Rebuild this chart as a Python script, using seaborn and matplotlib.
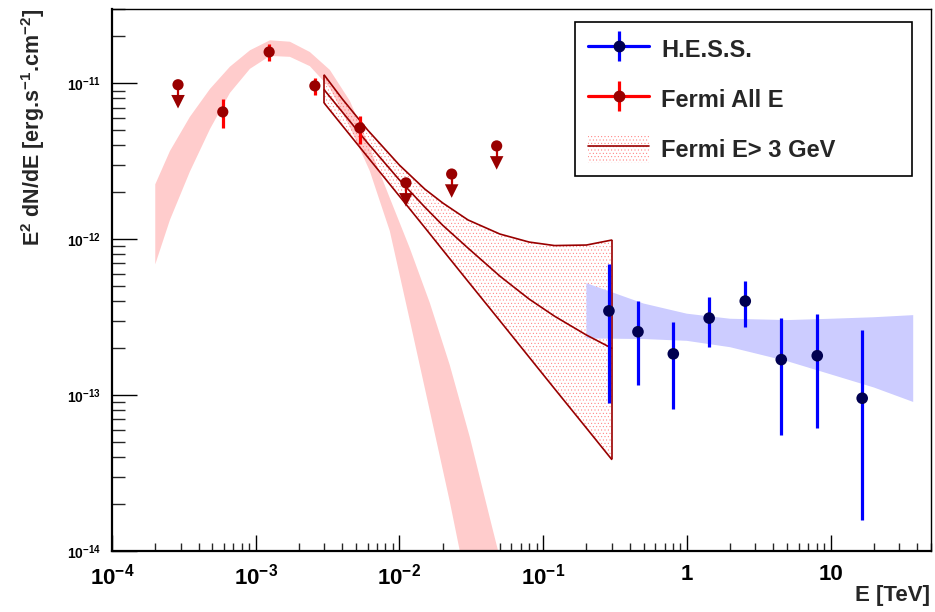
import numpy as np
import pandas as pd
import matplotlib
matplotlib.use("Agg")
import matplotlib.pyplot as plt
import seaborn as sns
from matplotlib.ticker import FixedLocator, NullFormatter, LogLocator
from matplotlib.lines import Line2D
from matplotlib.patches import Patch

# ---------------- data ----------------
# H.E.S.S. points [TeV], E^2 dN/dE [erg s^-1 cm^-2]
hess_E = [0.287, 0.457, 0.805, 1.43, 2.55, 4.54, 8.08, 16.6]
hess_F = [3.47e-13, 2.55e-13, 1.84e-13, 3.12e-13, 4.01e-13, 1.69e-13, 1.79e-13, 9.55e-14]
hess_F_hi = [6.90e-13, 4.01e-13, 2.93e-13, 4.26e-13, 5.37e-13, 3.13e-13, 3.32e-13, 2.62e-13]
hess_F_lo = [8.95e-14, 1.16e-13, 8.15e-14, 2.05e-13, 2.74e-13, 5.55e-14, 6.19e-14, 1.57e-14]

# H.E.S.S. fit band
hess_band_E = [0.2, 0.5, 1.0, 2.0, 5.0, 10.0, 20.0, 37.6]
hess_band_hi = [5.23e-13, 3.87e-13, 3.33e-13, 3.09e-13, 3.03e-13, 3.09e-13, 3.16e-13, 3.26e-13]
hess_band_lo = [2.31e-13, 2.29e-13, 2.23e-13, 2.03e-13, 1.65e-13, 1.36e-13, 1.12e-13, 9.04e-14]

# Fermi all-E points
fermi_E = [5.9e-4, 1.24e-3, 2.58e-3, 5.31e-3]
fermi_F = [6.56e-12, 1.59e-11, 9.64e-12, 5.18e-12]
fermi_F_hi = [7.95e-12, 1.80e-11, 1.08e-11, 6.18e-12]
fermi_F_lo = [5.18e-12, 1.40e-11, 8.44e-12, 4.08e-12]
# Fermi upper limits
fermi_ul_E = [2.88e-4, 1.11e-2, 2.31e-2, 4.75e-2]
fermi_ul_F = [9.8e-12, 2.30e-12, 2.62e-12, 3.97e-12]

# Fermi all-E log-parabola band
fermi_band_E = [2.0e-4, 2.53e-4, 3.48e-4, 4.81e-4, 6.62e-4, 9.12e-4, 1.256e-3, 1.73e-3,
                2.38e-3, 3.28e-3, 4.52e-3, 6.22e-3, 8.57e-3, 1.18e-2, 1.63e-2, 2.24e-2,
                3.09e-2, 4.25e-2, 5.86e-2]
fermi_band_hi = [2.25e-12, 3.68e-12, 6.09e-12, 9.22e-12, 1.28e-11, 1.63e-11, 1.89e-11, 1.85e-11,
                 1.59e-11, 1.22e-11, 7.72e-12, 3.88e-12, 1.84e-12, 8.78e-13, 3.89e-13, 1.56e-13,
                 5.37e-14, 1.64e-14, 5.04e-15]
fermi_band_lo = [6.90e-13, 1.33e-12, 2.71e-12, 5.10e-12, 8.69e-12, 1.24e-11, 1.50e-11, 1.48e-11,
                 1.29e-11, 9.35e-12, 5.26e-12, 2.74e-12, 1.13e-12, 3.03e-13, 7.88e-14, 2.08e-14,
                 4.82e-15, 1.10e-15, 2.50e-16]

# Fermi E > 3 GeV butterfly
fermi3_E = [3e-3, 4e-3, 6e-3, 1e-2, 1.5e-2, 2e-2, 3e-2, 5e-2, 8e-2, 0.12, 0.2, 0.3]
fermi3_F = [9.08e-12, 6.56e-12, 4.15e-12, 2.40e-12, 1.61e-12, 1.23e-12, 8.78e-13, 5.80e-13,
            4.13e-13, 3.21e-13, 2.43e-13, 2.00e-13]
fermi3_F_hi = [1.13e-11, 7.95e-12, 5.03e-12, 2.99e-12, 2.10e-12, 1.71e-12, 1.33e-12, 1.08e-12,
               9.59e-13, 9.11e-13, 9.18e-13, 9.88e-13]
fermi3_F_lo = [7.46e-12, 5.37e-12, 3.38e-12, 1.89e-12, 1.19e-12, 8.54e-13, 5.37e-13, 3.00e-13,
               1.75e-13, 1.10e-13, 6.15e-14, 3.87e-14]

x_ticks = [1e-4, 1e-3, 1e-2, 1e-1, 1, 10]
x_ticklabels = [r"$10^{-4}$", r"$10^{-3}$", r"$10^{-2}$", r"$10^{-1}$", "1", "10"]
y_ticks = [1e-14, 1e-13, 1e-12, 1e-11]
y_ticklabels = [r"$10^{-14}$", r"$10^{-13}$", r"$10^{-12}$", r"$10^{-11}$"]

legend_labels = ["H.E.S.S.", "Fermi All E", "Fermi E> 3 GeV"]
x_title = "E [TeV]"
y_title = r"E$^{2}$ dN/dE [erg.s$^{-1}$.cm$^{-2}$]"

# ---------------- style ----------------
sns.set_theme(style="white")
plt.rcParams["font.family"] = ["Liberation Sans", "DejaVu Sans"]
plt.rcParams["font.weight"] = "bold"
plt.rcParams["mathtext.fontset"] = "custom"
plt.rcParams["mathtext.rm"] = "Liberation Sans:bold"
plt.rcParams["mathtext.it"] = "Liberation Sans:bold"
plt.rcParams["mathtext.bf"] = "Liberation Sans:bold"
plt.rcParams["mathtext.default"] = "rm"
plt.rcParams["hatch.linewidth"] = 0.3

PINK = "#ffcccc"
LAV = "#ccccff"
DRED = "#990000"
NAVY = "#000050"
HATCH_C = "#ff7070"
UL_STEP = 0.778   # arrow triangle position factor (style)

fig = plt.figure(figsize=(9.35, 6.12), dpi=100)
ax = fig.add_axes([112 / 935, 1 - 551 / 612, 819 / 935, 542 / 612])
ax.set_xscale("log")
ax.set_yscale("log")

# Fermi all-E band
ax.fill_between(fermi_band_E, fermi_band_lo, fermi_band_hi, facecolor=PINK,
                edgecolor="none", lw=0, zorder=1)
# Fermi >3 GeV butterfly hatch
ax.fill_between(fermi3_E, fermi3_F_lo, fermi3_F_hi, facecolor="none",
                edgecolor=HATCH_C, hatch=".....", lw=0, zorder=2)
# HESS band
ax.fill_between(hess_band_E, hess_band_lo, hess_band_hi, facecolor=LAV,
                edgecolor="none", lw=0, zorder=3)
# butterfly outlines
b_df = pd.DataFrame({"E": fermi3_E, "F": fermi3_F, "hi": fermi3_F_hi, "lo": fermi3_F_lo})
for col in ["F", "hi", "lo"]:
    sns.lineplot(data=b_df, x="E", y=col, color=DRED, lw=1.2, sort=False, ax=ax,
                 zorder=4, legend=False)
ax.vlines([fermi3_E[0], fermi3_E[-1]], [fermi3_F_lo[0], fermi3_F_lo[-1]],
          [fermi3_F_hi[0], fermi3_F_hi[-1]], color=DRED, lw=1.2, zorder=4)

# HESS points
ax.vlines(hess_E, hess_F_lo, hess_F_hi, color="#0000ff", lw=2.3, zorder=5)
h_df = pd.DataFrame({"E": hess_E, "F": hess_F})
sns.scatterplot(data=h_df, x="E", y="F", color=NAVY, s=70, edgecolor="none",
                ax=ax, zorder=6, legend=False)

# Fermi points
ax.vlines(fermi_E, fermi_F_lo, fermi_F_hi, color="#ff0000", lw=2.3, zorder=5)
f_df = pd.DataFrame({"E": fermi_E, "F": fermi_F})
sns.scatterplot(data=f_df, x="E", y="F", color=DRED, s=65, edgecolor="none",
                ax=ax, zorder=6, legend=False)

# Fermi upper limits
ul_df = pd.DataFrame({"E": fermi_ul_E, "F": fermi_ul_F})
ul_df["Farrow"] = ul_df["F"] * UL_STEP
ax.vlines(ul_df["E"], ul_df["Farrow"], ul_df["F"], color="#c00000", lw=1.6, zorder=5)
sns.scatterplot(data=ul_df, x="E", y="F", color=DRED, s=65, edgecolor="none",
                ax=ax, zorder=6, legend=False)
sns.scatterplot(data=ul_df, x="E", y="Farrow", color=DRED, s=95, marker="v",
                edgecolor="none", ax=ax, zorder=6, legend=False)

# ---------------- axes ----------------
ax.set_xlim(1e-4, 50)
ax.set_ylim(1e-14, 3e-11)
ax.set_xlabel("")
ax.set_ylabel("")
ax.xaxis.set_major_locator(FixedLocator(x_ticks))
ax.set_xticklabels(x_ticklabels)
ax.xaxis.set_minor_locator(LogLocator(base=10, subs=np.arange(2, 10), numticks=20))
ax.xaxis.set_minor_formatter(NullFormatter())
ax.yaxis.set_major_locator(FixedLocator(y_ticks))
ax.set_yticklabels(y_ticklabels)
ax.yaxis.set_minor_locator(LogLocator(base=10, subs=np.arange(2, 10), numticks=20))
ax.yaxis.set_minor_formatter(NullFormatter())

ax.tick_params(axis="x", which="major", direction="in", length=11.5, width=1.0,
               bottom=True, top=False, labelsize=16, pad=9, colors="black")
ax.tick_params(axis="x", which="minor", direction="in", length=5.8, width=1.0,
               bottom=True, top=False)
ax.tick_params(axis="y", which="major", direction="in", length=18, width=1.0,
               left=True, right=False, labelsize=10, pad=8, colors="black")
ax.tick_params(axis="y", which="minor", direction="in", length=9, width=1.0,
               left=True, right=False)
for side in ["left", "bottom"]:
    ax.spines[side].set_linewidth(1.6)
    ax.spines[side].set_color("black")
for side in ["top", "right"]:
    ax.spines[side].set_linewidth(1.0)
    ax.spines[side].set_color("black")
for lab in ax.get_xticklabels() + ax.get_yticklabels():
    lab.set_fontweight("bold")

fig.text(930 / 935, 1 - 596 / 612, x_title, ha="right", va="center",
         fontsize=16, fontweight="bold")
fig.text(33 / 935, 1 - 9 / 612, y_title, rotation=90, ha="center", va="top",
         fontsize=15.5, fontweight="bold")

# ---------------- legend ----------------
h_hess = (Line2D([], [], color="#0000ff", lw=2.3),
          Line2D([], [], color="#0000ff", marker="|", ms=21, mew=2.3, ls="none"),
          Line2D([], [], color=NAVY, marker="o", ms=7.5, ls="none"))
h_fermi = (Line2D([], [], color="#ff0000", lw=2.3),
           Line2D([], [], color="#ff0000", marker="|", ms=21, mew=2.3, ls="none"),
           Line2D([], [], color=DRED, marker="o", ms=7.5, ls="none"))
h_f3 = (Patch(facecolor="none", edgecolor=HATCH_C, hatch=".....", lw=0),
        Line2D([], [], color=DRED, lw=1.2))
leg = ax.legend([h_hess, h_fermi, h_f3], legend_labels, loc="upper left",
                bbox_to_anchor=(575 / 935, (612 - 177) / 612, 337 / 935, 155 / 612),
                bbox_transform=fig.transFigure, mode="expand", borderaxespad=0,
                prop={"weight": "bold", "size": 17}, handlelength=2.6,
                handleheight=1.5, handletextpad=0.5, labelspacing=0.89,
                borderpad=0.55, fancybox=False, framealpha=1, edgecolor="black")
leg.get_frame().set_linewidth(1.2)
leg.set_zorder(10)

fig.savefig("out.png", dpi=100, facecolor="white")
